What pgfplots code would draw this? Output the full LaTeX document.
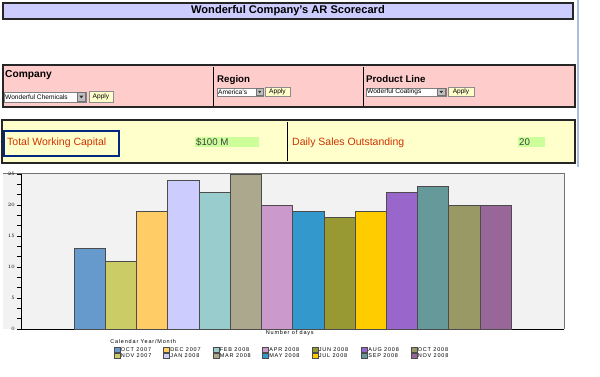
\documentclass[border=0pt]{standalone}
\usepackage{fontspec}
\setmainfont{Liberation Sans}
\newfontfamily\chartfont[LetterSpace=15]{Liberation Sans}
\usepackage{pgfplots}
\pgfplotsset{compat=1.18}
\definecolor{c1}{HTML}{6699CC}
\definecolor{c2}{HTML}{CCCC66}
\definecolor{c3}{HTML}{FFCC66}
\definecolor{c4}{HTML}{CCCCFF}
\definecolor{c5}{HTML}{99CCCC}
\definecolor{c6}{HTML}{ABA88E}
\definecolor{c7}{HTML}{CC99CC}
\definecolor{c8}{HTML}{3399CC}
\definecolor{c9}{HTML}{999933}
\definecolor{c10}{HTML}{FFCC00}
\definecolor{c11}{HTML}{9966CC}
\definecolor{c12}{HTML}{669999}
\definecolor{c13}{HTML}{999966}
\definecolor{c14}{HTML}{996699}
\definecolor{titlebg}{HTML}{CCCCFF}
\definecolor{filterbg}{HTML}{FFCCCC}
\definecolor{kpibg}{HTML}{FFFFCC}
\definecolor{kpigreen}{HTML}{CCFF99}
\definecolor{kpired}{HTML}{CC3300}
\definecolor{navy}{HTML}{002A80}
\definecolor{applybg}{HTML}{FFFFCC}
\definecolor{chartbg}{HTML}{F2F2F2}
\definecolor{sideblue}{HTML}{A8BEDC}
\newcommand{\dd}{\fontsize{6.6}{7.5}\selectfont}
\newcommand{\cf}{\chartfont\fontsize{5.5}{6}\selectfont}
\begin{document}
\begin{tikzpicture}[x=1pt,y=1pt]
\path[use as bounding box] (0,0) rectangle (600,377);
% side line
\draw[sideblue, line width=1.5pt] (578,377) -- (578,210);
% title bar
\draw[fill=titlebg, draw=black!85, line width=1.2pt] (3,374) rectangle (573,358);
\node[font=\bfseries\fontsize{11.1}{13}\selectfont, inner sep=0pt] at (288,366) {Wonderful Company's AR Scorecard};
% filter panel
\draw[fill=filterbg, draw=black!85, line width=1.2pt] (3,312) rectangle (575,270);
\draw[black, line width=1pt] (213,310) -- (213,271);
\draw[black, line width=1pt] (363,310) -- (363,271);
\node[font=\bfseries\fontsize{10.2}{12}\selectfont, anchor=base west, inner sep=0pt] at (5,299.5) {Company};
\node[font=\bfseries\fontsize{9.7}{12}\selectfont, anchor=base west, inner sep=0pt] at (217,294) {Region};
\node[font=\bfseries\fontsize{9.7}{12}\selectfont, anchor=base west, inner sep=0pt] at (366,294) {Product Line};
% company dropdown
\draw[fill=white, draw=black!50, line width=0.5pt] (4,285) rectangle (86,275);
\draw[fill=black!25, draw=black!55, line width=0.5pt] (77,284.5) rectangle (85.5,275.5);
\fill[black!80] (79.3,281.3) -- (83.3,281.3) -- (81.3,278.6) -- cycle;
\node[font=\dd, anchor=west, inner sep=0pt] at (5,280) {Wonderful Chemicals};
\draw[fill=applybg, draw=black!45, line width=0.5pt] (89,285.5) rectangle (113,275);
\node[font=\dd, inner sep=0pt] at (101,280.2) {Apply};
% region dropdown
\draw[fill=white, draw=black!50, line width=0.5pt] (217,289) rectangle (263,281);
\draw[fill=black!25, draw=black!55, line width=0.5pt] (256.5,288.5) rectangle (262.8,281.5);
\fill[black!80] (258,286.2) -- (261.4,286.2) -- (259.7,283.8) -- cycle;
\node[font=\dd, anchor=west, inner sep=0pt] at (218,285) {America's};
\draw[fill=applybg, draw=black!45, line width=0.5pt] (265,290) rectangle (290,281);
\node[font=\dd, inner sep=0pt] at (277.5,285.5) {Apply};
% product dropdown
\draw[fill=white, draw=black!50, line width=0.5pt] (366,289) rectangle (446,281);
\draw[fill=black!25, draw=black!55, line width=0.5pt] (437,288.5) rectangle (445.7,281.5);
\fill[black!80] (439.3,286.2) -- (443.3,286.2) -- (441.3,283.8) -- cycle;
\node[font=\dd, anchor=west, inner sep=0pt] at (367,285) {Woderful Coatings};
\draw[fill=applybg, draw=black!45, line width=0.5pt] (448,290) rectangle (474,281);
\node[font=\dd, inner sep=0pt] at (461,285.5) {Apply};
% KPI panel
\draw[fill=kpibg, draw=black!85, line width=1.2pt] (2,257) rectangle (575,214);
\draw[black, line width=1pt] (287,255) -- (287,216);
\draw[navy, line width=1.4pt] (4,246) rectangle (119,221);
\node[font=\fontsize{10.5}{12}\selectfont, text=kpired, anchor=base west, inner sep=0pt] at (7,231.5) {Total Working Capital};
\fill[kpigreen] (195,240.3) rectangle (259,229.7);
\node[font=\fontsize{9.7}{12}\selectfont, text=black!75, anchor=base west, inner sep=0pt] at (196,231.8) {\$100 M};
\node[font=\fontsize{10.5}{12}\selectfont, text=kpired, anchor=base west, inner sep=0pt] at (292,231.5) {Daily Sales Outstanding};
\fill[kpigreen] (518,240.3) rectangle (545,229.7);
\node[font=\fontsize{9.7}{12}\selectfont, text=black!75, anchor=base west, inner sep=0pt] at (519,231.8) {20};
% chart background
\fill[chartbg] (3,204) rectangle (564,47.5);
\draw[black!55, line width=0.8pt] (3,203.5) -- (564,203.5) -- (564,48);
\begin{axis}[
  at={(21pt,48pt)}, anchor=south west,
  scale only axis, width=543pt, height=155pt,
  xmin=-2.2, xmax=15.2, ymin=0, ymax=25,
  ybar, bar width=1, bar shift=0,
  axis x line*=bottom, axis y line*=left,
  axis line style={-, black, line width=0.9pt},
  xtick=\empty,
  ytick={0,5,10,15,20,25},
  minor y tick num=2,
  tick align=outside,
  major tick length=4pt, minor tick length=4pt,
  every tick/.style={black, line width=0.6pt},
  yticklabel style={font=\cf, inner sep=0.5pt, xshift=-1.5pt},
  xlabel={Number of days},
  xlabel style={font=\cf, at={(axis description cs:0.495,0)}, anchor=north, inner sep=0.5pt, yshift=-1pt},
  clip=false,
  legend columns=2, transpose legend,
  legend style={at={(axis description cs:0.165,-0.105)}, anchor=north west,
    draw=none, fill=none, font=\cf,
    nodes={inner sep=0.5pt, text height=3.7pt, text depth=0.7pt},
    row sep=0pt, column sep=0pt},
  legend image code/.code={\draw[#1, line width=0.5pt] (0pt,-2.2pt) rectangle (6pt,2.6pt);},
]
\addplot[fill=c1, draw=black!70] coordinates {(0,13)};
\addplot[fill=c2, draw=black!70] coordinates {(1,11)};
\addplot[fill=c3, draw=black!70] coordinates {(2,19)};
\addplot[fill=c4, draw=black!70] coordinates {(3,24)};
\addplot[fill=c5, draw=black!70] coordinates {(4,22)};
\addplot[fill=c6, draw=black!70] coordinates {(5,25)};
\addplot[fill=c7, draw=black!70] coordinates {(6,20)};
\addplot[fill=c8, draw=black!70] coordinates {(7,19)};
\addplot[fill=c9, draw=black!70] coordinates {(8,18)};
\addplot[fill=c10, draw=black!70] coordinates {(9,19)};
\addplot[fill=c11, draw=black!70] coordinates {(10,22)};
\addplot[fill=c12, draw=black!70] coordinates {(11,23)};
\addplot[fill=c13, draw=black!70] coordinates {(12,20)};
\addplot[fill=c14, draw=black!70] coordinates {(13,20)};
\legend{\makebox[42pt][l]{OCT 2007},\makebox[42pt][l]{NOV 2007},
\makebox[42pt][l]{DEC 2007},\makebox[42pt][l]{JAN 2008},
\makebox[42pt][l]{FEB 2008},\makebox[42pt][l]{MAR 2008},
\makebox[42pt][l]{APR 2008},\makebox[42pt][l]{MAY 2008},
\makebox[42pt][l]{JUN 2008},\makebox[42pt][l]{JUL 2008},
\makebox[42pt][l]{AUG 2008},\makebox[42pt][l]{SEP 2008},
\makebox[42pt][l]{OCT 2008},\makebox[42pt][l]{NOV 2008}}
\node[font=\cf, anchor=west, inner sep=0pt] at (axis description cs:0.164,-0.084) {Calendar Year/Month};
\end{axis}
\end{tikzpicture}
\end{document}
